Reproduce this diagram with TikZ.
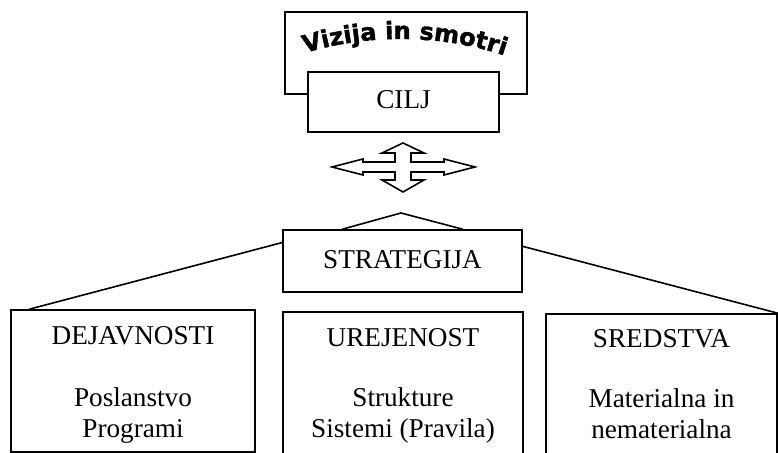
\documentclass[tikz,border=0pt]{standalone}
\usepackage{fontspec}
\setmainfont{Liberation Serif}
\newfontfamily\vizfont[BoldFeatures={FakeBold=1.5}]{DejaVu Sans}
\usetikzlibrary{calc,decorations.text}
\begin{document}
\begin{tikzpicture}[x=0.5pt,y=-0.5pt,
  box/.style={draw, line width=0.8pt, fill=white, inner sep=0pt},
  lbl/.style={font=\fontsize{13.6}{15.5}\selectfont, inner sep=0pt, anchor=base},
  conn/.style={line width=0.8pt}]
\useasboundingbox (0,0) rectangle (778,453);
\clip (0,0) rectangle (778,453);
% top boxes
\node[box, minimum width=121pt, minimum height=41pt] (viz) at (406,53) {};
\node[box, minimum width=95.5pt, minimum height=30pt] (cilj) at (403.5,102) {};
\node[lbl] (ciljt) at (403.5,109) {CILJ};
\path[decorate, decoration={text along path, text align={fit to path},
  text={|\vizfont\bfseries\fontsize{12}{12}\selectfont|Vizija in smotri}}]
  (305,53) .. controls (368,34) and (438,34) .. (503,55);
% cross arrow
\draw[line width=0.8pt, line join=miter, fill=white]
  (403,143) -- (424,153) -- (411,153) -- (411,162) -- (444,162) -- (444,159)
  -- (475,167) -- (444,175) -- (444,172) -- (411,172) -- (411,180) -- (424,180)
  -- (403,192) -- (382,180) -- (395,180) -- (395,172) -- (363,172) -- (363,175)
  -- (332,167) -- (363,159) -- (363,162) -- (395,162) -- (395,153) -- (382,153) -- cycle;
% strategija
\node[box, minimum width=119.5pt, minimum height=31pt] (strat) at (402.5,261) {};
\node[lbl] (stratt) at (402.5,269) {STRATEGIJA};
\coordinate (apex) at (401,213);
\draw[conn] ($(strat.north west)!0.25!(strat.north east)$) -- (apex)
  -- ($(strat.north west)!0.75!(strat.north east)$);
% bottom boxes
\node[box, minimum width=122pt, minimum height=71pt] (dej) at (133,381) {};
\node[box, minimum width=120pt, minimum height=79pt] (ure) at (403,391) {};
\node[box, minimum width=115.5pt, minimum height=78pt] (sre) at (661.5,392) {};
\draw[conn] ($(strat.north west)!0.21!(strat.south west)$) -- ($(dej.north west)!0.078!(dej.north east)$);
\draw[conn] ($(strat.north east)!0.27!(strat.south east)$) -- (sre.north east);
% texts
\node[lbl] (dejt) at (133,345) {DEJAVNOSTI};
\node[lbl] (dej1) at (133,407) {Poslanstvo};
\node[lbl] (dej2) at (133,438) {Programi};
\node[lbl] (uret) at (403,347) {UREJENOST};
\node[lbl] (ure1) at (403,407) {Strukture};
\node[lbl] (ure2) at (403,438) {Sistemi (Pravila)};
\node[lbl] (sret) at (661.5,348) {SREDSTVA};
\node[lbl] (sre1) at (661.5,408) {Materialna in};
\node[lbl] (sre2) at (661.5,439) {nematerialna};
\end{tikzpicture}
\end{document}
